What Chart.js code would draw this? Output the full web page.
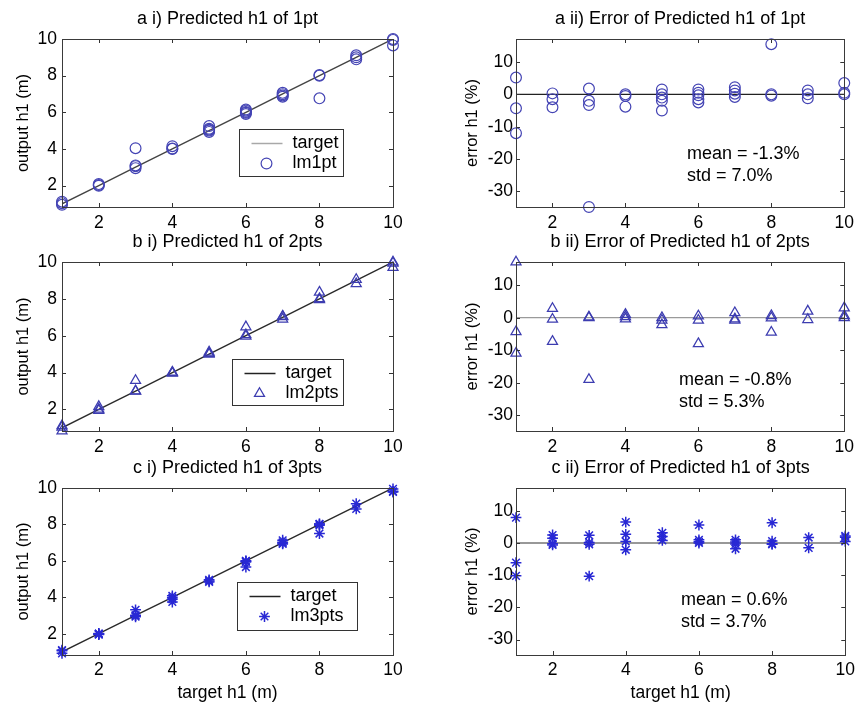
<!DOCTYPE html>
<html><head><meta charset="utf-8">
<script src="https://cdn.jsdelivr.net/npm/chart.js@4.4.1/dist/chart.umd.min.js"></script>
<style>
html,body{margin:0;padding:0;background:#fff;width:860px;height:708px;overflow:hidden}
.p{position:absolute}
canvas{display:block}
</style></head><body>
<div class="p" style="left:0;top:0"><canvas id="c0" width="420" height="232"></canvas></div>
<div class="p" style="left:430px;top:0"><canvas id="c1" width="430" height="232"></canvas></div>
<div class="p" style="left:0;top:232px"><canvas id="c2" width="420" height="228"></canvas></div>
<div class="p" style="left:430px;top:232px"><canvas id="c3" width="430" height="228"></canvas></div>
<div class="p" style="left:0;top:460px"><canvas id="c4" width="420" height="248"></canvas></div>
<div class="p" style="left:430px;top:460px"><canvas id="c5" width="430" height="248"></canvas></div>
<script>
// ---------------- data ----------------
const targetH1 = [1, 2, 3, 4, 5, 6, 7, 8, 9, 10];

// predicted h1 (m), one list per target value
const out1pt = [
  [0.95, 1.04, 1.12], [1.99, 2.03, 2.08], [2.95, 3.06, 3.10, 4.04], [4.00, 4.02, 4.15],
  [4.93, 5.00, 5.05, 5.10, 5.25], [5.91, 5.97, 6.02, 6.09, 6.15], [6.85, 6.92, 6.99, 7.06],
  [6.76, 8.00, 8.03], [8.89, 9.00, 9.11], [9.65, 9.95, 10.00]
];
const out2pts = [
  [0.83, 1.04, 1.11], [1.94, 2.01, 2.15], [2.99, 3.00, 3.57], [3.96, 3.99, 4.02],
  [5.00, 5.04, 5.11], [5.97, 6.05, 6.48], [6.90, 7.03, 7.06], [7.95, 8.01, 8.36],
  [8.82, 9.05], [9.70, 9.94, 10.00]
];
const out3pts = [
  [0.92, 1.06, 1.10], [1.95, 1.97, 2.00, 2.01], [2.93, 2.99, 3.01, 3.31], [3.74, 3.89, 3.98, 4.08],
  [4.84, 4.90, 4.96], [5.66, 5.94, 5.98, 6.00], [6.93, 6.98, 7.02, 7.13], [7.50, 7.95, 8.02, 8.03],
  [8.85, 9.14], [9.78, 9.82, 9.95]
];

// error h1 (%), one list per target value
const err1pt = [
  [5.2, -4.3, -12.0], [0.3, -1.5, -4.0], [1.8, -2.0, -3.3, -34.8], [0.0, -0.5, -3.8],
  [1.5, 0.0, -1.0, -2.0, -5.0], [1.5, 0.5, -0.3, -1.5, -2.5], [2.2, 1.2, 0.2, -0.8],
  [15.5, 0.0, -0.4], [1.2, 0.0, -1.2], [3.5, 0.5, 0.0]
];
const err2pts = [
  [17.1, -4.3, -10.9], [2.8, -0.5, -7.3], [0.2, 0.0, -19.0], [1.0, 0.3, -0.4],
  [0.0, -0.8, -2.2], [0.5, -0.8, -8.0], [1.5, -0.4, -0.8], [0.6, -0.1, -4.5],
  [2.0, -0.6], [3.0, 0.6, 0.0]
];
const err3pts = [
  [7.9, -6.1, -10.2], [2.5, 1.5, -0.2, -0.6], [2.4, 0.2, -0.4, -10.3], [6.5, 2.7, 0.5, -2.1],
  [3.2, 2.0, 0.8], [5.6, 1.0, 0.4, 0.0], [1.0, 0.3, -0.3, -1.8], [6.3, 0.6, -0.2, -0.4],
  [1.7, -1.5], [2.2, 1.8, 0.5]
];

const seriesNames = ['lm1pt', 'lm2pts', 'lm3pts'];
const panelTitles = [
  'a i) Predicted h1 of 1pt', 'a ii) Error of Predicted h1 of 1pt',
  'b i) Predicted h1 of 2pts', 'b ii) Error of Predicted h1 of 2pts',
  'c i) Predicted h1 of 3pts', 'c ii) Error of Predicted h1 of 3pts'
];
const meanLabels = ['-1.3%', '-0.8%', '0.6%'];
const stdLabels = ['7.0%', '5.3%', '3.7%'];

const xTickValues = [2, 4, 6, 8, 10];
const outTickValues = [2, 4, 6, 8, 10];
const errTickValues = [-30, -20, -10, 0, 10];

const xAxisLabel = 'target h1 (m)';
const outAxisLabel = 'output h1 (m)';
const errAxisLabel = 'error h1 (%)';

// ---------------- drawing ----------------
const FONT = "'Liberation Sans', Arial, Helvetica, sans-serif";
Chart.defaults.font.family = FONT;
Chart.defaults.color = '#000';

function pointsFrom(lists) {
  const pts = [];
  lists.forEach((vals, i) => vals.forEach(v => pts.push({ x: targetH1[i], y: v })));
  return pts;
}

function drawMarker(ctx, style, r, x, y, color, lw) {
  ctx.save();
  ctx.strokeStyle = color; ctx.lineWidth = lw;
  ctx.beginPath();
  if (style === 'circle') {
    ctx.arc(x, y, r, 0, Math.PI * 2);
  } else if (style === 'triangle') {
    let rad = 0;
    ctx.moveTo(x + Math.sin(rad) * r, y - Math.cos(rad) * r);
    rad += Math.PI * 2 / 3;
    ctx.lineTo(x + Math.sin(rad) * r, y - Math.cos(rad) * r);
    rad += Math.PI * 2 / 3;
    ctx.lineTo(x + Math.sin(rad) * r, y - Math.cos(rad) * r);
    ctx.closePath();
  } else {
    for (let k = 0; k < 4; k++) {
      const a = k * Math.PI / 4;
      ctx.moveTo(x - Math.cos(a) * r, y - Math.sin(a) * r);
      ctx.lineTo(x + Math.cos(a) * r, y + Math.sin(a) * r);
    }
  }
  ctx.stroke();
  ctx.restore();
}

const decor = {
  id: 'decor',
  afterDatasetsDraw(chart, args, o) {
    const ctx = chart.ctx, a = chart.chartArea;
    const xs = chart.scales.x, ys = chart.scales.y;
    ctx.save();
    // ticks (inward, all four sides)
    ctx.strokeStyle = '#333'; ctx.lineWidth = 1;
    ctx.beginPath();
    o.xTicks.forEach(v => {
      const px = Math.round(xs.getPixelForValue(v)) + 0.5;
      ctx.moveTo(px, a.bottom); ctx.lineTo(px, a.bottom - 4);
      ctx.moveTo(px, a.top); ctx.lineTo(px, a.top + 4);
    });
    o.yTicks.forEach(v => {
      const py = Math.round(ys.getPixelForValue(v)) + 0.5;
      ctx.moveTo(a.left, py); ctx.lineTo(a.left + 4, py);
      ctx.moveTo(a.right, py); ctx.lineTo(a.right - 4, py);
    });
    ctx.stroke();
    // box
    ctx.strokeStyle = '#3a3a3a';
    ctx.strokeRect(Math.round(a.left) + 0.5, Math.round(a.top) + 0.5,
      Math.round(a.right - a.left), Math.round(a.bottom - a.top));
    // title
    ctx.fillStyle = '#000';
    ctx.textAlign = 'center'; ctx.textBaseline = 'middle';
    ctx.font = '18px ' + FONT;
    ctx.fillText(o.title, (a.left + a.right) / 2, a.top - 20);
    // y label
    ctx.font = '16.5px ' + FONT;
    ctx.save();
    ctx.translate(a.left - o.yLabelOffset, (a.top + a.bottom) / 2);
    ctx.rotate(-Math.PI / 2);
    ctx.fillText(o.yLabel, 0, 0);
    ctx.restore();
    // x label
    if (o.xLabel) {
      ctx.font = '17.5px ' + FONT;
      ctx.fillText(o.xLabel, (a.left + a.right) / 2, a.bottom + 38);
    }
    // legend
    if (o.legend) {
      const L = o.legend;
      const bx = Math.round(a.left + L.dx) + 0.5, by = Math.round(a.top + L.dy) + 0.5;
      ctx.fillStyle = '#fff';
      ctx.fillRect(bx, by, L.w, L.h);
      ctx.strokeStyle = '#333'; ctx.lineWidth = 1;
      ctx.strokeRect(bx, by, L.w, L.h);
      ctx.strokeStyle = L.lineColor; ctx.lineWidth = 1.5;
      ctx.beginPath();
      ctx.moveTo(bx + 12, by + 14); ctx.lineTo(bx + 43, by + 14);
      ctx.stroke();
      drawMarker(ctx, L.marker, L.r, bx + 27, by + 34, L.markerColor, L.lw);
      ctx.fillStyle = '#000';
      ctx.font = '18px ' + FONT;
      ctx.textAlign = 'left'; ctx.textBaseline = 'middle';
      ctx.fillText(L.labels[0], bx + 53, by + 14);
      ctx.fillText(L.labels[1], bx + 53, by + 34);
    }
    // stats
    if (o.stats) {
      ctx.fillStyle = '#000';
      ctx.font = '18px ' + FONT;
      ctx.textAlign = 'left'; ctx.textBaseline = 'middle';
      ctx.fillText('mean = ' + o.stats.mean, a.left + o.stats.dx, a.top + o.stats.dy);
      ctx.fillText('std = ' + o.stats.std, a.left + o.stats.dx, a.top + o.stats.dy + 22);
    }
    ctx.restore();
  }
};

const markerStyles = ['circle', 'triangle', 'star'];
const markerColors = ['#4444b4', '#3c3cb0', '#2828d4'];
const markerRadius = [5.4, 5.8, 5.4];
const markerWidth = [1.2, 1.25, 1.5];
const targetColors = ['#444', '#2a2a2a', '#2a2a2a'];
const zeroColors = ['#222', '#9a9a9a', '#333'];
const legendBoxes = [
  { dx: 177, dy: 90, w: 104, h: 47 },
  { dx: 170, dy: 97, w: 111, h: 46 },
  { dx: 175, dy: 94, w: 120, h: 48 }
];
const statsPos = [{ dx: 171, dy: 115 }, { dx: 163, dy: 118 }, { dx: 165, dy: 112 }];
const rowGeom = [
  { pt: 39, xh: 25, xpad: 6 },
  { pt: 30, xh: 29, xpad: 6 },
  { pt: 28, xh: 53, xpad: 5 }
];
const outLists = [out1pt, out2pts, out3pts];
const errLists = [err1pt, err2pts, err3pts];

function makePanel(row, col) {
  const id = 'c' + (row * 2 + col);
  const isOut = col === 0;
  const g = rowGeom[row];
  const lineData = isOut ? targetH1.map(t => ({ x: t, y: t })) : targetH1.map(t => ({ x: t, y: 0 }));
  const pts = pointsFrom(isOut ? outLists[row] : errLists[row]);
  const yTicks = isOut ? outTickValues : errTickValues;
  const decorOpts = {
    title: panelTitles[row * 2 + col],
    xTicks: xTickValues, yTicks: yTicks,
    yLabel: isOut ? outAxisLabel : errAxisLabel,
    yLabelOffset: isOut ? 39 : 44,
    xLabel: row === 2 ? xAxisLabel : null,
    legend: isOut ? Object.assign({
      marker: markerStyles[row], r: markerRadius[row], lw: markerWidth[row],
      markerColor: markerColors[row], lineColor: row === 0 ? '#a8a8a8' : '#222',
      labels: ['target', seriesNames[row]]
    }, legendBoxes[row]) : null,
    stats: isOut ? null : Object.assign({ mean: meanLabels[row], std: stdLabels[row] }, statsPos[row])
  };
  new Chart(document.getElementById(id), {
    type: 'scatter',
    data: {
      datasets: [
        {
          type: 'line', label: isOut ? 'target' : 'zero', data: lineData,
          borderColor: isOut ? targetColors[row] : zeroColors[row],
          borderWidth: isOut ? 1.4 : 1.2, pointRadius: 0, fill: false, tension: 0, order: 2
        },
        {
          label: seriesNames[row], data: pts, showLine: false,
          pointStyle: markerStyles[row], pointRadius: markerRadius[row],
          pointBorderWidth: markerWidth[row], borderColor: markerColors[row],
          backgroundColor: 'rgba(0,0,0,0)', clip: false, order: 1
        }
      ]
    },
    options: {
      responsive: false, animation: false, events: [],
      layout: { padding: { left: 0, top: g.pt, right: isOut ? 27 : 12, bottom: 0 } },
      plugins: { legend: { display: false }, tooltip: { enabled: false }, decor: decorOpts },
      scales: {
        x: {
          type: 'linear', min: 1, max: 10,
          afterBuildTicks: s => { s.ticks = xTickValues.map(v => ({ value: v })); },
          afterFit: s => { s.height = g.xh; },
          grid: { display: false, drawTicks: false }, border: { display: false },
          ticks: { padding: g.xpad, color: '#000', font: { size: 17.5 } }
        },
        y: {
          type: 'linear', min: isOut ? 0.83 : -34.8, max: isOut ? 10 : 17.1,
          afterBuildTicks: s => { s.ticks = yTicks.map(v => ({ value: v })); },
          afterFit: s => { s.width = isOut ? 62 : 86; },
          grid: { display: false, drawTicks: false }, border: { display: false },
          ticks: { padding: isOut ? 5 : 3, color: '#000', font: { size: 17.5 } }
        }
      }
    },
    plugins: [decor]
  });
}

for (let r = 0; r < 3; r++) { makePanel(r, 0); makePanel(r, 1); }
</script>
</body></html>
